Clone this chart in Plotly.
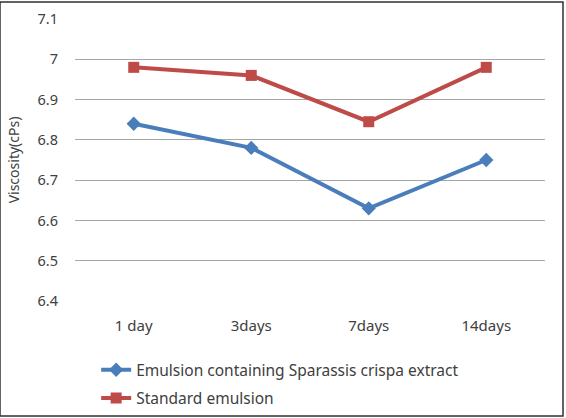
import plotly.graph_objects as go

categories = ["1 day", "3days", "7days", "14days"]
sparassis = [6.84, 6.78, 6.63, 6.75]
standard = [6.98, 6.96, 6.845, 6.98]
y_ticks = [6.4, 6.5, 6.6, 6.7, 6.8, 6.9, 7.0, 7.1]
y_tick_text = ["6.4", "6.5", "6.6", "6.7", "6.8", "6.9", "7", "7.1"]

fig = go.Figure()
fig.add_trace(go.Scatter(
    x=categories, y=sparassis, mode="lines+markers",
    name="Emulsion containing Sparassis crispa extract", legendgroup="a",
    line=dict(color="#4a7ebb", width=4),
    marker=dict(symbol="diamond", size=11, color="#4a7ebb"),
))
fig.add_trace(go.Scatter(
    x=categories, y=standard, mode="lines+markers",
    name="Standard emulsion", legendgroup="b",
    line=dict(color="#be4b48", width=4),
    marker=dict(symbol="square", size=11, color="#be4b48"),
))

fig.update_layout(
    width=566, height=418,
    margin=dict(l=75, r=21, t=19, b=117, autoexpand=False),
    paper_bgcolor="white", plot_bgcolor="white",
    font=dict(family="Noto Sans", size=14, color="#404040"),
    xaxis=dict(type="category", range=[-0.5, 3.5], showgrid=False,
               showline=False, ticks="", ticklabelstandoff=14,
               tickfont=dict(size=15), automargin=False),
    yaxis=dict(range=[6.4, 7.1], tickvals=y_ticks, ticktext=y_tick_text,
               showgrid=True, gridcolor="#a6a6a6", gridwidth=1.3,
               zeroline=False, showline=False, ticks="", automargin=False,
               ticklabelstandoff=16, tickfont=dict(size=14.5),
               title=dict(text="Viscosity(cPs)", font=dict(size=14), standoff=14)),
    legend=dict(x=0.045, y=-0.185, xanchor="left", yanchor="top",
                font=dict(size=15.5, color="#404040"), tracegroupgap=5,
                itemwidth=30, bgcolor="rgba(0,0,0,0)"),
    showlegend=True,
)
fig.add_shape(type="rect", xref="paper", yref="paper",
              x0=-75/470, x1=1 + 18/470, y0=-115/282, y1=1 + 17/282,
              line=dict(color="#303030", width=1.5))
fig.write_html("out.html")
